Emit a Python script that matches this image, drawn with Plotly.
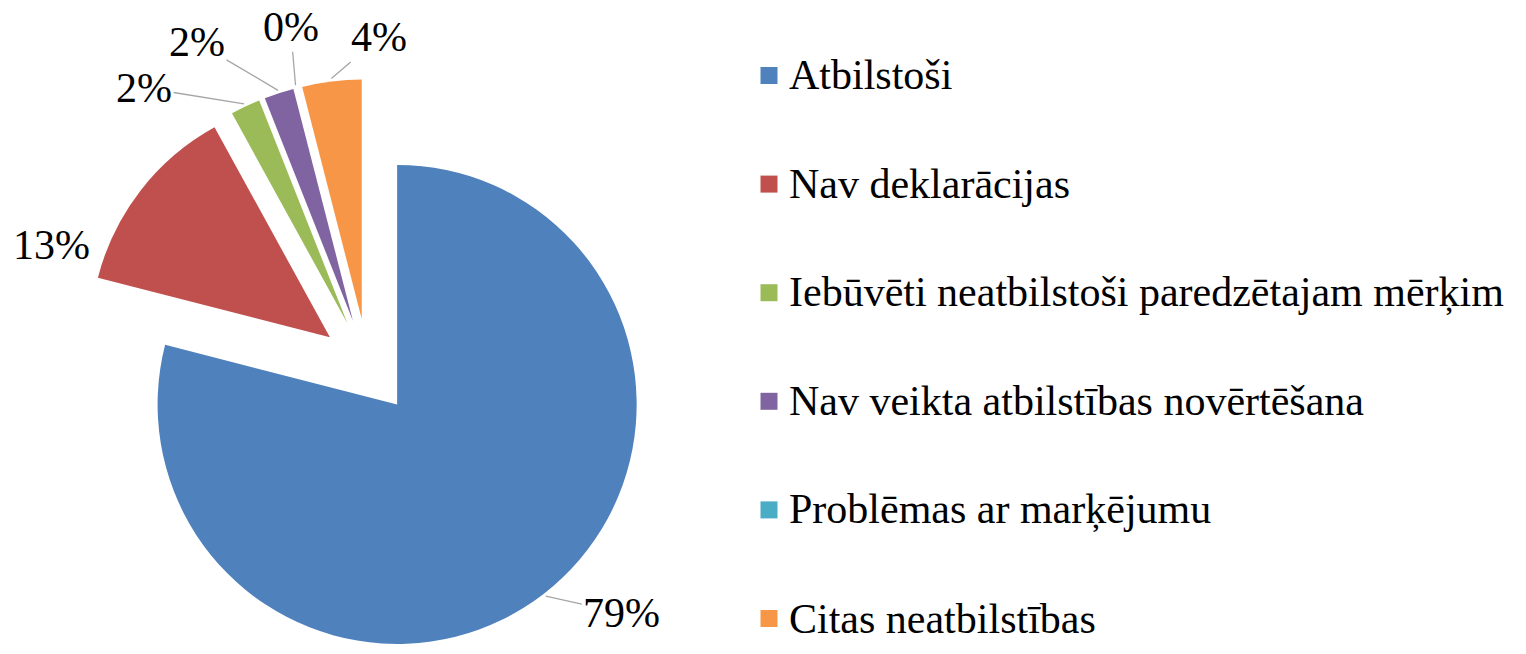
import math
import plotly.graph_objects as go

labels = ["Atbilstoši", "Nav deklarācijas", "Iebūvēti neatbilstoši paredzētajam mērķim",
          "Nav veikta atbilstības novērtēšana", "Problēmas ar marķējumu", "Citas neatbilstības"]
values = [79, 13, 2, 2, 0, 4]
colors = ["#4F81BD", "#C0504D", "#9BBB59", "#8064A2", "#4BACC6", "#F79646"]

FONT = "Liberation Serif"
W, H = 1526, 654
PULL = 0.2
DOM_X = [0, 0.482]
DOM_Y = [0, 0.879]

# label offsets (pixels, relative to the slice's outer edge point) and leader-line flag
label_offsets = [(76, 17, True), (-87, 56, False), (-100, -16, True),
                 (-81, -48, True), (-5, -58, True), (48, -41, True)]

fig = go.Figure(go.Pie(
    labels=labels,
    values=values,
    marker=dict(colors=colors, line=dict(width=0)),
    sort=False,
    direction="clockwise",
    rotation=0,
    pull=PULL,
    textposition="none",
    hoverinfo="skip",
    showlegend=False,
    domain=dict(x=DOM_X, y=DOM_Y),
))

# pie geometry as plotly computes it (margins are zero)
cx = W * (DOM_X[0] + DOM_X[1]) / 2
box_w = W * (DOM_X[1] - DOM_X[0])
box_h = H * (DOM_Y[1] - DOM_Y[0])
cy = H * (1 - DOM_Y[0]) - box_h / 2
r = min(box_w, box_h) / 2 / (1 + PULL)

total = sum(values)
cum = 0
for v, (ox, oy, leader) in zip(values, label_offsets):
    mid = 2 * math.pi * (cum + v / 2) / total
    cum += v
    ra = r * PULL + r + 3
    px = cx + ra * math.sin(mid)
    py = cy - ra * math.cos(mid)
    txt = f"{round(100 * v / total)}%"
    common = dict(xref="paper", yref="paper", x=px / W, y=1 - py / H, text=txt,
                  font=dict(family=FONT, size=42, color="black"))
    if leader:
        fig.add_annotation(**common, showarrow=True, ax=ox, ay=oy,
                           arrowhead=0, arrowwidth=1.3, arrowcolor="#A6A6A6", standoff=0)
    else:
        fig.add_annotation(**common, showarrow=False, xanchor="center", yanchor="middle",
                           xshift=ox, yshift=-oy)

# Manual legend (square swatch + label)
leg_x_sq = 760.5
leg_x_txt = 787
leg_y0 = 75.5
leg_dy = 108.6
sq = 17
for i, (lab, col) in enumerate(zip(labels, colors)):
    yc = leg_y0 + i * leg_dy
    fig.add_shape(type="rect", xref="paper", yref="paper",
                  x0=leg_x_sq / W, x1=(leg_x_sq + sq) / W,
                  y0=1 - (yc + sq / 2) / H, y1=1 - (yc - sq / 2) / H,
                  fillcolor=col, line=dict(width=0))
    fig.add_annotation(x=leg_x_txt / W, y=1 - yc / H, xref="paper", yref="paper",
                       xanchor="left", yanchor="middle", showarrow=False,
                       text=lab, font=dict(family=FONT, size=42, color="black"))

fig.update_layout(
    width=W, height=H,
    margin=dict(l=0, r=0, t=0, b=0, autoexpand=False),
    paper_bgcolor="white",
    font=dict(family=FONT, size=42, color="black"),
)

fig.write_html("out.html", config={"displayModeBar": False},
               post_script="document.body.style.margin='0';")
